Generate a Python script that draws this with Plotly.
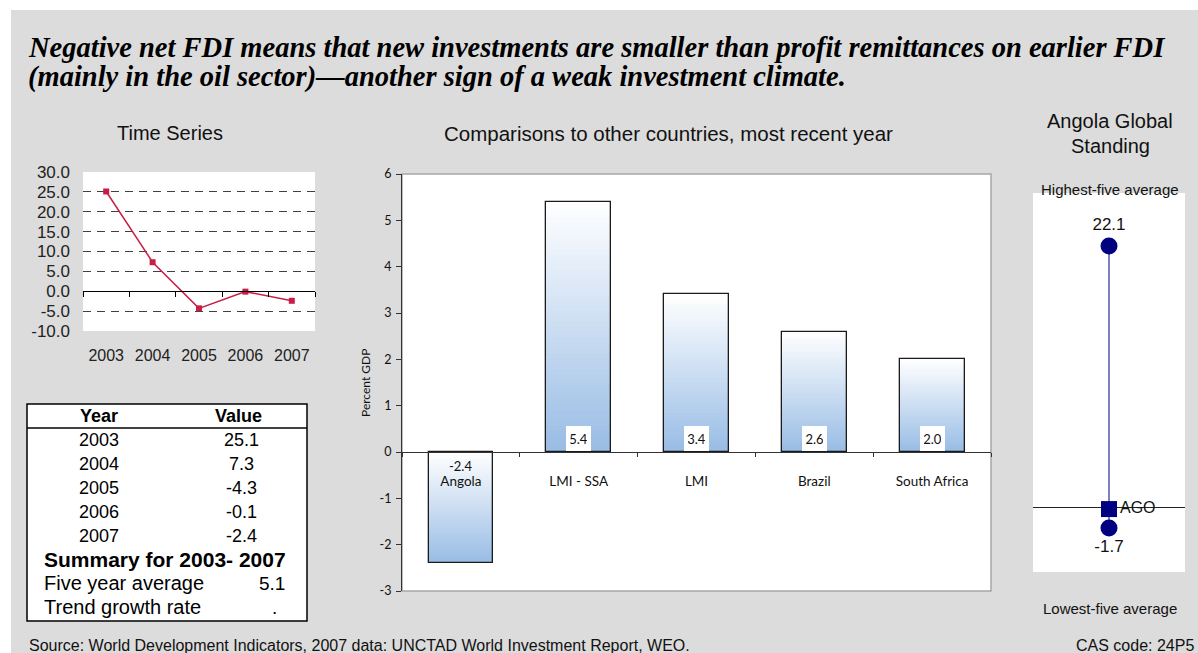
import plotly.graph_objects as go

W, H = 1198, 653


def px(x):
    return x / W


def py(y):
    return 1 - y / H


# ---------------- data ----------------
ts_years = ["2003", "2004", "2005", "2006", "2007"]
ts_values = [25.1, 7.3, -4.3, -0.1, -2.4]
ts_ticks = [-10, -5, 0, 5, 10, 15, 20, 25, 30]

summary_title = "Summary for 2003- 2007"
five_year_avg = 5.1
trend_growth = "."

cmp_countries = ["Angola", "LMI - SSA", "LMI", "Brazil", "South Africa"]
cmp_values = [-2.4, 5.4, 3.4, 2.6, 2.0]
cmp_ticks = [-3, -2, -1, 0, 1, 2, 3, 4, 5, 6]

standing_high = 22.1
standing_low = -1.7
standing_ago = -0.1
standing_code = "AGO"

title_line1 = "Negative net FDI means that new investments are smaller than profit remittances on earlier FDI"
title_line2 = "(mainly in the oil sector)\u2014another sign of a weak investment climate."
source_text = "Source: World Development Indicators, 2007 data: UNCTAD World Investment Report, WEO."
cas_text = "CAS code: 24P5"

# ---------------- styles ----------------
SANS = "Liberation Sans, Arial, sans-serif"
GILL = "Lato, sans-serif"
SERIF = "Liberation Serif, Times New Roman, serif"
GRAY_BG = "#DCDCDC"
NAVY = "#000080"
RED = "#C81E46"
BAR_W = 0.55

fig = go.Figure()

# ---------------- time series ----------------
fig.add_trace(go.Scatter(
    x=ts_years, y=ts_values, mode="lines+markers",
    line=dict(color=RED, width=1.5),
    marker=dict(symbol="square", size=6, color=RED),
    xaxis="x", yaxis="y", showlegend=False, hoverinfo="skip"))

# ---------------- comparison bars (gradient by stacked overlay) ----------------
N = 48
c_top = (255, 255, 255)
c_bot = (152, 188, 229)
for k in range(N - 1, -1, -1):
    frac = (k + 1) / N
    t = (k + 0.5) / N
    col = "rgb(%d,%d,%d)" % tuple(round(c_top[i] + (c_bot[i] - c_top[i]) * t) for i in range(3))
    heights = [abs(v) * frac for v in cmp_values]
    bases = [max(v, 0) - abs(v) * frac for v in cmp_values]
    fig.add_trace(go.Bar(
        x=cmp_countries, y=heights, base=bases, width=BAR_W,
        marker=dict(color=col, line=dict(width=0)),
        xaxis="x2", yaxis="y2", showlegend=False, hoverinfo="skip"))

fig.add_trace(go.Bar(
    x=cmp_countries, y=cmp_values, width=BAR_W,
    marker=dict(color="rgba(0,0,0,0)", line=dict(color="#1a1a1a", width=1.3)),
    xaxis="x2", yaxis="y2", showlegend=False, hoverinfo="skip"))

# value labels
for c, v in zip(cmp_countries, cmp_values):
    if v >= 0:
        fig.add_annotation(x=c, y=0, xref="x2", yref="y2", text="%.1f" % v,
                           showarrow=False, yanchor="bottom", yshift=1,
                           bgcolor="white", borderwidth=0, borderpad=4,
                           width=17, height=17,
                           font=dict(family=GILL, size=13, color="#111"))
    else:
        fig.add_annotation(x=c, y=0, xref="x2", yref="y2", text="%.1f" % v,
                           showarrow=False, yanchor="top", yshift=-4,
                           font=dict(family=GILL, size=13, color="#111"))

# ---------------- global standing ----------------
fig.add_trace(go.Scatter(
    x=[0.5, 0.5], y=[standing_high, standing_low], mode="lines",
    line=dict(color=NAVY, width=1), xaxis="x3", yaxis="y3",
    showlegend=False, hoverinfo="skip"))
fig.add_trace(go.Scatter(
    x=[0.5, 0.5], y=[standing_high, standing_low], mode="markers+text",
    marker=dict(symbol="circle", size=17, color=NAVY),
    text=["%.1f" % standing_high, "%.1f" % standing_low],
    textposition=["top center", "bottom center"],
    textfont=dict(family=SANS, size=17, color="#111"),
    xaxis="x3", yaxis="y3", showlegend=False, hoverinfo="skip"))
fig.add_trace(go.Scatter(
    x=[0.5], y=[standing_ago], mode="markers+text",
    marker=dict(symbol="square", size=16, color=NAVY),
    text=[standing_code], textposition="middle right",
    textfont=dict(family=SANS, size=16, color="#111"),
    xaxis="x3", yaxis="y3", showlegend=False, hoverinfo="skip"))

# ---------------- axes ----------------
ts_zero_y = 172 + (30 / 40) * (331 - 172)
cmp_zero_y = 174 + (6 / 9) * (591 - 174)

layout_axes = dict(
    xaxis=dict(domain=[px(83), px(315)], anchor="free", position=py(ts_zero_y),
               type="category", categoryarray=ts_years, range=[-0.5, 4.5],
               tickson="boundaries", ticks="outside", ticklen=5, tickcolor="#000",
               showline=True, linecolor="#000", linewidth=1, showgrid=False,
               zeroline=False, ticklabelstandoff=50, automargin=False,
               tickfont=dict(family=SANS, size=16, color="#222")),
    yaxis=dict(domain=[py(331), py(172)], anchor="x", range=[-10, 30],
               tickvals=ts_ticks, ticktext=["%.1f" % t for t in ts_ticks],
               showgrid=True, gridcolor="#404040", gridwidth=1, griddash="8px,6px",
               zeroline=False, showline=False, ticks="", ticklabelstandoff=12,
               automargin=False,
               tickfont=dict(family=SANS, size=17, color="#222")),
    xaxis2=dict(domain=[px(402), px(991)], anchor="free", position=py(cmp_zero_y),
                type="category", categoryarray=cmp_countries, range=[-0.5, 4.5],
                tickson="boundaries", ticks="outside", ticklen=4, tickcolor="#333",
                showline=True, linecolor="#333", linewidth=1, showgrid=False,
                zeroline=False, ticklabelstandoff=17, automargin=False,
                tickfont=dict(family=GILL, size=13.5, color="#111")),
    yaxis2=dict(domain=[py(591), py(174)], anchor="x2", range=[-3, 6],
                tickvals=cmp_ticks, ticktext=["%d" % t for t in cmp_ticks],
                ticks="outside", ticklen=5, tickcolor="#333",
                showline=True, linecolor="#333", linewidth=1, showgrid=False,
                zeroline=False, ticklabelstandoff=2, automargin=False,
                tickfont=dict(family=GILL, size=12.5, color="#111")),
    xaxis3=dict(domain=[px(1033), px(1185)], anchor="y3", range=[0, 1],
                showgrid=False, zeroline=False, showline=False, ticks="",
                showticklabels=False, automargin=False),
    yaxis3=dict(domain=[py(572), py(193)], anchor="x3", range=[-5.41, 26.57],
                showgrid=False, zeroline=True, zerolinecolor="#222",
                zerolinewidth=1, showline=False, ticks="", showticklabels=False,
                automargin=False),
)

shapes = [
    # white page margins outside the gray panel
    dict(type="rect", xref="paper", yref="paper", x0=0, x1=1, y0=py(10), y1=1,
         fillcolor="white", line=dict(width=0), layer="above"),
    dict(type="rect", xref="paper", yref="paper", x0=0, x1=px(11), y0=0, y1=1,
         fillcolor="white", line=dict(width=0), layer="above"),
    # bar chart frame
    dict(type="rect", xref="x2 domain", yref="y2 domain", x0=0, x1=1, y0=0, y1=1,
         fillcolor="rgba(0,0,0,0)", line=dict(color="#A6A6A6", width=1.5), layer="below"),
    # table frame and header rule
    dict(type="rect", xref="paper", yref="paper", x0=px(27), x1=px(307),
         y0=py(621), y1=py(404), fillcolor="white", line=dict(color="#000", width=1.5),
         layer="below"),
    dict(type="line", xref="paper", yref="paper", x0=px(27), x1=px(307),
         y0=py(428), y1=py(428), line=dict(color="#000", width=1.5)),
]

ann = []


def txt(x, y, s, size, xanchor="center", family=SANS, bold=False, italic=False, color="#111",
        textangle=0):
    if bold:
        s = "<b>%s</b>" % s
    if italic:
        s = "<i>%s</i>" % s
    ann.append(dict(x=px(x), y=py(y), xref="paper", yref="paper", text=s,
                    showarrow=False, xanchor=xanchor, yanchor="middle",
                    textangle=textangle,
                    font=dict(family=family, size=size, color=color)))


txt(26, 47, title_line1, 28.5, "left", SERIF, bold=True, italic=True, color="#000")
txt(26, 77, title_line2, 28.5, "left", SERIF, bold=True, italic=True, color="#000")
txt(170, 133, "Time Series", 20)
txt(668, 133, "Comparisons to other countries, most recent year", 20.5)
txt(1110, 121, "Angola Global", 20)
txt(1110, 146, "Standing", 20)
txt(1110, 189, "Highest-five average", 15)
txt(1110, 608, "Lowest-five average", 15)
txt(27, 645, source_text, 16, "left")
txt(1196, 645, cas_text, 16, "right")
txt(365, 383, "Percent GDP", 12, family=GILL, textangle=-90)

# table
txt(99, 416, "Year", 18, bold=True, color="#000")
txt(238, 416, "Value", 18, bold=True, color="#000")
row_y = [440, 464, 488, 512, 536]
for yy, yr, v in zip(row_y, ts_years, ts_values):
    txt(99, yy, yr, 18, color="#000")
    txt(241, yy, "%.1f" % v, 18, color="#000")
txt(165, 559, summary_title, 21, bold=True, color="#000")
txt(42, 583, "Five year average", 20, "left", color="#000")
txt(287, 583, "%.1f" % five_year_avg, 19, "right", color="#000")
txt(42, 607, "Trend growth rate", 20, "left", color="#000")
txt(279, 607, trend_growth, 19, "right", color="#000")

fig.update_layout(
    width=W, height=H, margin=dict(l=0, r=0, t=0, b=0, pad=0, autoexpand=False),
    paper_bgcolor=GRAY_BG, plot_bgcolor="white",
    barmode="overlay", bargap=0, showlegend=False,
    shapes=shapes, annotations=fig.layout.annotations + tuple(ann),
    **layout_axes)

post = (
    "var d=document.documentElement,b=document.body,g=document.getElementById('{plot_id}');"
    "d.style.margin='0';d.style.padding='0';d.style.overflow='hidden';"
    "b.style.margin='0';b.style.padding='0';b.style.overflow='hidden';"
    "g.style.position='absolute';g.style.top='0px';g.style.left='0px';"
)
fig.write_html("out.html", include_plotlyjs=True,
               config={"displayModeBar": False}, post_script=post)
